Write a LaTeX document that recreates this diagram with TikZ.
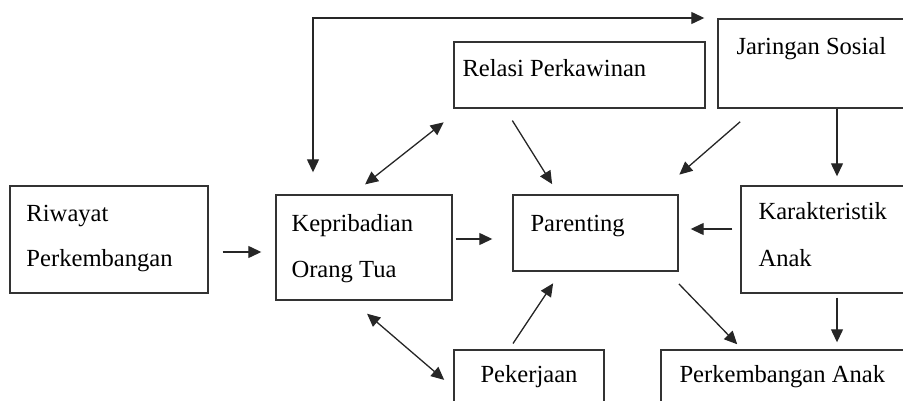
\documentclass[tikz,border=0pt]{standalone}
\usepackage{fontspec}
\setmainfont{Liberation Serif}
\usetikzlibrary{arrows.meta}

\begin{document}
\begin{tikzpicture}[x=1pt,y=-1pt,
	kotak/.style={draw=black!80,line width=1.4pt,inner sep=0pt},
	teks/.style={anchor=base west,inner sep=0pt,font=\fontsize{24.6}{28}\selectfont},
	panah/.style={draw=black!85,line width=1.3pt,-{Triangle[length=13pt,width=12pt]}},
	panahdua/.style={draw=black!85,line width=1.3pt,{Triangle[length=13pt,width=12pt]}-{Triangle[length=13pt,width=12pt]}}]
		\useasboundingbox (0,0) rectangle (903,401);
		% kotak
		\node[kotak,minimum width=198pt,minimum height=107pt] (riwayat) at (109,239.5) {};
		\node[kotak,minimum width=176pt,minimum height=105pt] (kep) at (364,247.5) {};
		\node[kotak,minimum width=251pt,minimum height=66pt] (relasi) at (579.5,75) {};
		\node[kotak,minimum width=192pt,minimum height=89pt] (jaringan) at (814,63.5) {};
		\node[kotak,minimum width=165pt,minimum height=76pt] (parenting) at (595.5,233) {};
		\node[kotak,minimum width=169pt,minimum height=107pt] (karakter) at (825.5,239.5) {};
		\node[kotak,minimum width=150pt,minimum height=70pt] (pekerjaan) at (529,385) {};
		\node[kotak,minimum width=249pt,minimum height=70pt] (perkembangan) at (785.5,385) {};
		% teks
		\node[teks] (t1) at ([xshift=17pt,yshift=-36pt]riwayat.north west) {Riwayat};
		\node[teks] (t2) at ([xshift=17pt,yshift=-81pt]riwayat.north west) {Perkembangan};
		\node[teks] (t3) at ([xshift=16pt,yshift=-37pt]kep.north west) {Kepribadian};
		\node[teks] (t4) at ([xshift=16pt,yshift=-83pt]kep.north west) {Orang Tua};
		\node[teks] (t5) at ([xshift=9pt,yshift=-35pt]relasi.north west) {Relasi Perkawinan};
		\node[teks] (t6) at ([xshift=19pt,yshift=-36pt]jaringan.north west) {Jaringan Sosial};
		\node[teks] (t7) at ([xshift=18pt,yshift=-37pt]parenting.north west) {Parenting};
		\node[teks] (t8) at ([xshift=18pt,yshift=-34pt]karakter.north west) {Karakteristik};
		\node[teks] (t9) at ([xshift=18pt,yshift=-81pt]karakter.north west) {Anak};
		\node[teks] (t10) at ([xshift=27pt,yshift=-33pt]pekerjaan.north west) {Pekerjaan};
		\node[teks] (t11) at ([xshift=19pt,yshift=-33pt]perkembangan.north west) {Perkembangan Anak};
		% panah
		\coordinate (atas) at (313,18);
		\draw[panahdua,shorten <=22pt,shorten >=13pt] (atas |- kep.north) -- (atas) -- (atas -| jaringan.west);
		\draw[panahdua,shorten <=16pt,shorten >=22pt] ([xshift=-11.5pt]kep.north) -- ([xshift=7.6pt]relasi.south west);
		\draw[panahdua,shorten <=20pt,shorten >=12pt] ([xshift=-12.1pt]kep.south) -- ([yshift=-2.7pt]pekerjaan.west);
		\draw[panah,shorten <=14pt,shorten >=14pt] ([yshift=-12.5pt]riwayat.east) -- ([yshift=-4.5pt]kep.west);
		\draw[panah,shorten <=3pt,shorten >=20pt] ([yshift=8.5pt]kep.east) -- ([yshift=-6pt]parenting.west);
		\draw[panah,shorten <=8pt,shorten >=12pt] ([yshift=10.5pt]karakter.west) -- ([yshift=4pt]parenting.east);
		\draw[panah,shorten <=14pt,shorten >=12pt] ([xshift=51.6pt]relasi.south west) -- ([xshift=46.2pt]parenting.north west);
		\draw[panah,shorten <=20pt,shorten >=30pt] ([xshift=37.9pt]jaringan.south west) -- ([xshift=-22pt]parenting.north east);
		\draw[panah,shorten >=9pt] ([xshift=23pt]jaringan.south) -- ([xshift=11.5pt]karakter.north);
		\draw[panah,shorten <=7pt,shorten >=14pt] ([xshift=-19.9pt]pekerjaan.north) -- ([xshift=-34.6pt]parenting.south);
		\draw[panah,shorten <=17pt,shorten >=7pt] ([xshift=-11.6pt]parenting.south east) -- ([xshift=81.8pt]perkembangan.north west);
		\draw[panah,shorten <=4pt,shorten >=7pt] ([xshift=11.5pt]karakter.south) -- ([xshift=11.5pt]karakter.south |- perkembangan.north);
	\end{tikzpicture}
\end{document}
